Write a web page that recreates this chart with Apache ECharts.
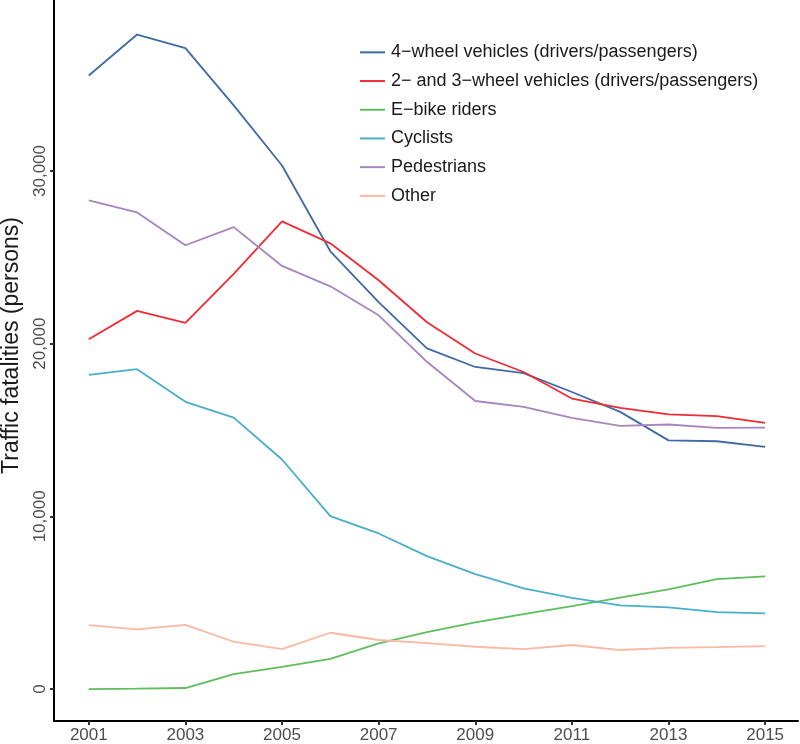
<!DOCTYPE html>
<html>
<head>
<meta charset="utf-8">
<script src="https://cdn.jsdelivr.net/npm/echarts@6/dist/echarts.min.js"></script>
<style>
html,body{margin:0;padding:0;background:#fff;}
#chart{width:800px;height:744px;}
</style>
</head>
<body>
<div id="chart"></div>
<script>
const years = [2001,2002,2003,2004,2005,2006,2007,2008,2009,2010,2011,2012,2013,2014,2015];
const xTickYears = [2001,2003,2005,2007,2009,2011,2013,2015];
const yTicks = [0,10000,20000,30000];
const seriesNames = [
  "4\u2212wheel vehicles (drivers/passengers)",
  "2\u2212 and 3\u2212wheel vehicles (drivers/passengers)",
  "E\u2212bike riders",
  "Cyclists",
  "Pedestrians",
  "Other"
];
const fourWheel = [35530,37900,37110,33800,30320,25350,22400,19730,18650,18290,17200,16050,14400,14350,14020];
const twoThreeWheel = [20250,21900,21200,24040,27080,25810,23670,21240,19430,18360,16820,16280,15910,15800,15410];
const eBike = [0,20,60,870,1290,1750,2640,3300,3860,4340,4800,5300,5770,6370,6520];
const cyclists = [18190,18520,16630,15720,13290,10010,9010,7700,6650,5830,5280,4840,4730,4460,4380];
const pedestrians = [28300,27600,25700,26750,24500,23320,21640,18950,16680,16340,15700,15240,15320,15120,15140];
const other = [3700,3450,3720,2740,2310,3260,2840,2660,2450,2310,2550,2260,2390,2430,2490];
const colors = ['#3F6AA5','#EF2B36','#5DBE5B','#47AFC9','#A884BF','#FBB8A2'];

const allValues = [fourWheel, twoThreeWheel, eBike, cyclists, pedestrians, other];

const chart = echarts.init(document.getElementById('chart'), null, {renderer:'canvas'});
const font = 'Liberation Sans, Arial, sans-serif';
chart.setOption({
  animation: false,
  backgroundColor: '#fff',
  grid: {left: 54, right: 2, top: 0, bottom: 23, containLabel: false, outerBoundsMode: 'none'},
  legend: {
    orient: 'vertical',
    left: 355,
    top: 33,
    icon: 'rect',
    itemWidth: 25,
    itemHeight: 2,
    itemGap: 0,
    textStyle: {fontFamily: font, fontSize: 18, color: '#1a1a1a', lineHeight: 28.7, padding: [0,0,0,1]},
    data: seriesNames
  },
  xAxis: {
    type: 'value',
    min: 2000.28,
    max: 2015.68,
    splitLine: {show: false},
    axisLine: {show: true, onZero: false, lineStyle: {color: '#000', width: 2}},
    axisTick: {show: true, length: 4, lineStyle: {color: '#333', width: 2}, customValues: xTickYears},
    axisLabel: {fontFamily: font, fontSize: 17, color: '#4d4d4d', margin: 6, customValues: xTickYears, formatter: v => String(v)}
  },
  yAxis: {
    type: 'value',
    min: -1850,
    max: 39900,
    splitLine: {show: false},
    axisLine: {show: true, onZero: false, lineStyle: {color: '#000', width: 2}},
    axisTick: {show: true, length: 4, lineStyle: {color: '#333', width: 2}, customValues: yTicks},
    axisLabel: {fontFamily: font, fontSize: 17, color: '#4d4d4d', margin: 5, rotate: 90, customValues: yTicks,
      formatter: v => v.toLocaleString('en-US')},
    name: 'Traffic fatalities (persons)',
    nameLocation: 'middle',
    nameGap: 31,
    nameTextStyle: {fontFamily: font, fontSize: 23, color: '#1a1a1a', padding: [0,0,0,30]}
  },
  series: seriesNames.map((n, i) => ({
    name: n,
    type: 'line',
    data: years.map((y, j) => [y, allValues[i][j]]),
    showSymbol: false,
    symbol: 'none',
    color: colors[i],
    lineStyle: {width: 1.8, color: colors[i]},
    emphasis: {disabled: true}
  }))
});
</script>
</body>
</html>
